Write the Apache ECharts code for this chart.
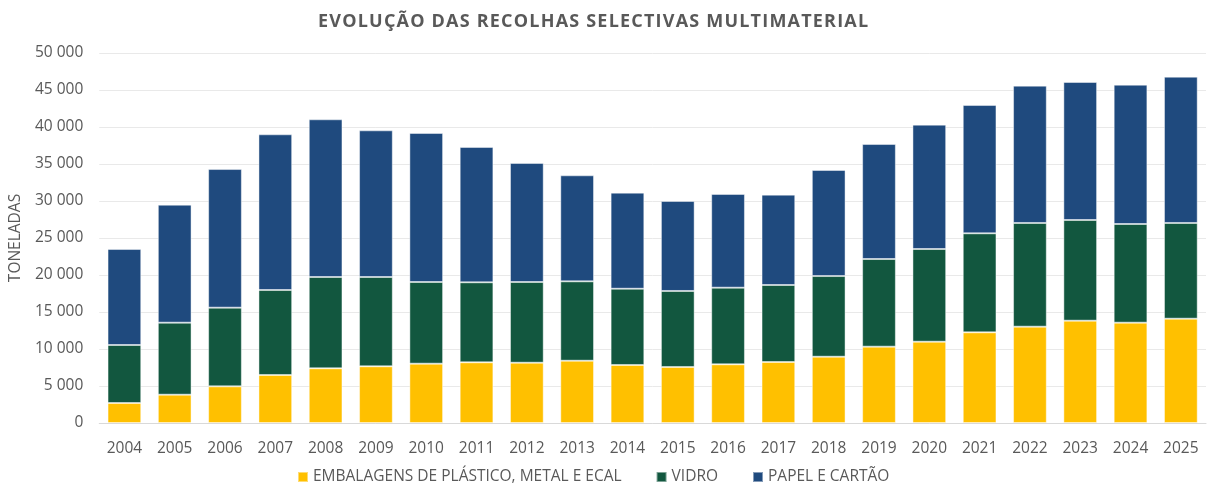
<!DOCTYPE html>
<html lang="pt">
<head>
<meta charset="UTF-8">
<title>Evolução das recolhas selectivas multimaterial</title>
<script src="https://cdn.jsdelivr.net/npm/echarts@6/dist/echarts.min.js"></script>
<style>
body{ margin:0; background:#fff; }
#chart{ width:1211px; height:484px; }
</style>
</head>
<body>
<div id="chart"></div>
<script>
var years = ['2004','2005','2006','2007','2008','2009','2010','2011','2012','2013','2014',
             '2015','2016','2017','2018','2019','2020','2021','2022','2023','2024','2025'];
var embalagens = [2700,3830,4950,6490,7390,7660,8020,8200,8150,8420,7840,
                  7570,7930,8240,8960,10320,10990,12250,13020,13830,13560,14100];
var vidro = [7840,9730,10640,11480,12340,12070,11030,10810,10900,10720,10310,
             10270,10360,10410,10900,11840,12520,13380,14010,13600,13330,12930];
var papel = [12970,15940,18730,21040,21310,19820,20140,18290,16090,14330,12980,
             12160,12660,12210,14330,15540,16810,17340,18560,18650,18830,19770];
var names = ['EMBALAGENS DE PLÁSTICO, METAL E ECAL', 'VIDRO', 'PAPEL E CARTÃO'];
var colors = ['#FFC000', '#12573F', '#1F4A7E'];
var titulo = 'EVOLUÇÃO DAS RECOLHAS SELECTIVAS MULTIMATERIAL';

var font = '"Open Sans", "Noto Sans", sans-serif';

function fmt(v){
    return String(v).replace(/\B(?=(\d{3})+(?!\d))/g, ' ');
}

// espaçamento entre letras do título (hair space pequeno em rich text)
function espacar(s){
    return s.split('').join('{h|\u200A}');
}

var series = [embalagens, vidro, papel].map(function(d, i){
    return {
        name: names[i],
        type: 'bar',
        stack: 'total',
        data: d,
        barCategoryGap: '33%',
        itemStyle: {
            color: colors[i],
            borderColor: 'rgba(255,255,255,0.45)',
            borderWidth: 1
        }
    };
});

var chart = echarts.init(document.getElementById('chart'));
chart.setOption({
    animation: false,
    textStyle: { fontFamily: font },
    title: {
        text: espacar(titulo),
        left: 313,
        top: 8,
        textStyle: {
            color: '#595959', fontSize: 18, fontWeight: 'bold', fontFamily: font,
            rich: { h: { fontSize: 12, fontFamily: font } }
        }
    },
    legend: {
        bottom: -6,
        left: 292,
        itemWidth: 10,
        itemHeight: 10,
        itemGap: 34,
        icon: 'rect',
        textStyle: { color: '#595959', fontSize: 15.5, fontFamily: font },
        data: names
    },
    grid: { left: 97, right: 5, top: 53, bottom: 61 },
    xAxis: {
        type: 'category',
        data: years,
        axisTick: { show: false },
        axisLine: { lineStyle: { color: '#d9d9d9', width: 1 } },
        axisLabel: { color: '#595959', fontSize: 15.5, margin: 18 }
    },
    yAxis: {
        type: 'value',
        min: 0,
        max: 50000,
        interval: 5000,
        name: 'TONELADAS',
        nameLocation: 'middle',
        nameGap: 75,
        nameTextStyle: { color: '#595959', fontSize: 15.5 },
        axisLabel: { color: '#595959', fontSize: 15.5, margin: 16, formatter: fmt },
        splitLine: { lineStyle: { color: '#e9e9e9' } }
    },
    series: series
});
</script>
</body>
</html>
